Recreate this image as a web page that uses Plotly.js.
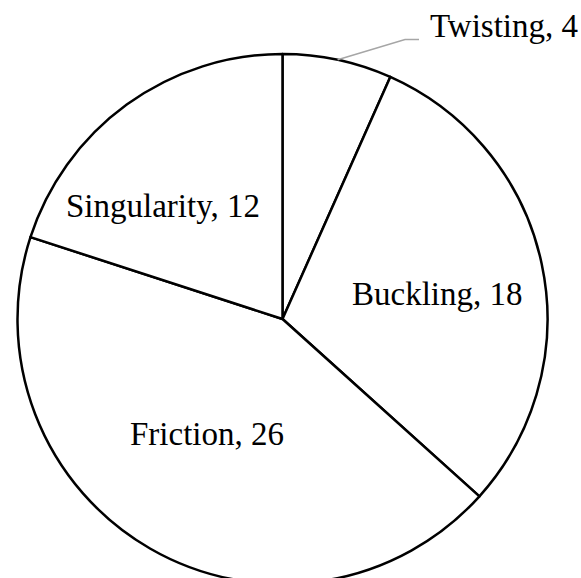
<!DOCTYPE html>
<html>
<head>
<meta charset="utf-8">
<script src="https://cdn.plot.ly/plotly-3.0.1.min.js"></script>
<style>
  html, body { margin: 0; padding: 0; background: #ffffff; overflow: hidden; }
  #chart { width: 581px; height: 640px; }
</style>
</head>
<body>
<div id="chart"></div>
<script>
// Failure causes and their counts
const causes = ["Twisting", "Buckling", "Friction", "Singularity"];
const counts = [4, 18, 26, 12];

// Figure geometry (pixels)
const W = 581, H = 640;
const CX = 282.5, CY = 319, R = 265;

// Label centres (pixels), one per cause
const labelX = [504, 437.5, 207, 163];
const labelY = [26, 293.5, 434, 206];

const px = x => x / W;
const py = y => 1 - y / H;

const labelFont = { family: "Liberation Serif, Times New Roman, serif", size: 33, color: "#000000" };

const annotations = causes.map((c, i) => ({
  text: c + ", " + counts[i],
  xref: "paper", yref: "paper",
  x: px(labelX[i]), y: py(labelY[i]),
  xanchor: "center", yanchor: "middle",
  showarrow: false,
  font: labelFont
}));

// Leader line for the small slice: starts on the rim at its mid-angle
const total = counts.reduce((a, b) => a + b, 0);
const midAngle = (counts[0] / 2) / total * 2 * Math.PI;
const rimX = CX + R * Math.sin(midAngle);
const rimY = CY - R * Math.cos(midAngle);
const leaderPath = "M " + rimX + "," + rimY + " L 405,39.5 L 419,39.5";

const data = [{
  type: "pie",
  labels: causes,
  values: counts,
  sort: false,
  direction: "clockwise",
  rotation: 0,
  textinfo: "none",
  hoverinfo: "label+value",
  marker: {
    colors: causes.map(() => "#ffffff"),
    line: { color: "#000000", width: 2.5 }
  },
  domain: {
    x: [px(CX - R), px(CX + R)],
    y: [py(CY + R), py(CY - R)]
  },
  showlegend: false
}];

const layout = {
  width: W, height: H,
  margin: { l: 0, r: 0, t: 0, b: 0 },
  paper_bgcolor: "#ffffff",
  plot_bgcolor: "#ffffff",
  showlegend: false,
  annotations: annotations,
  shapes: [{
    type: "path",
    xref: "paper", yref: "paper",
    path: leaderPath
      .replace(/(-?[\d.]+),(-?[\d.]+)/g, (m, a, b) => px(+a) + "," + py(+b)),
    line: { color: "#a6a6a6", width: 1.5 }
  }]
};

Plotly.newPlot("chart", data, layout, { displayModeBar: false, staticPlot: true });
</script>
</body>
</html>
